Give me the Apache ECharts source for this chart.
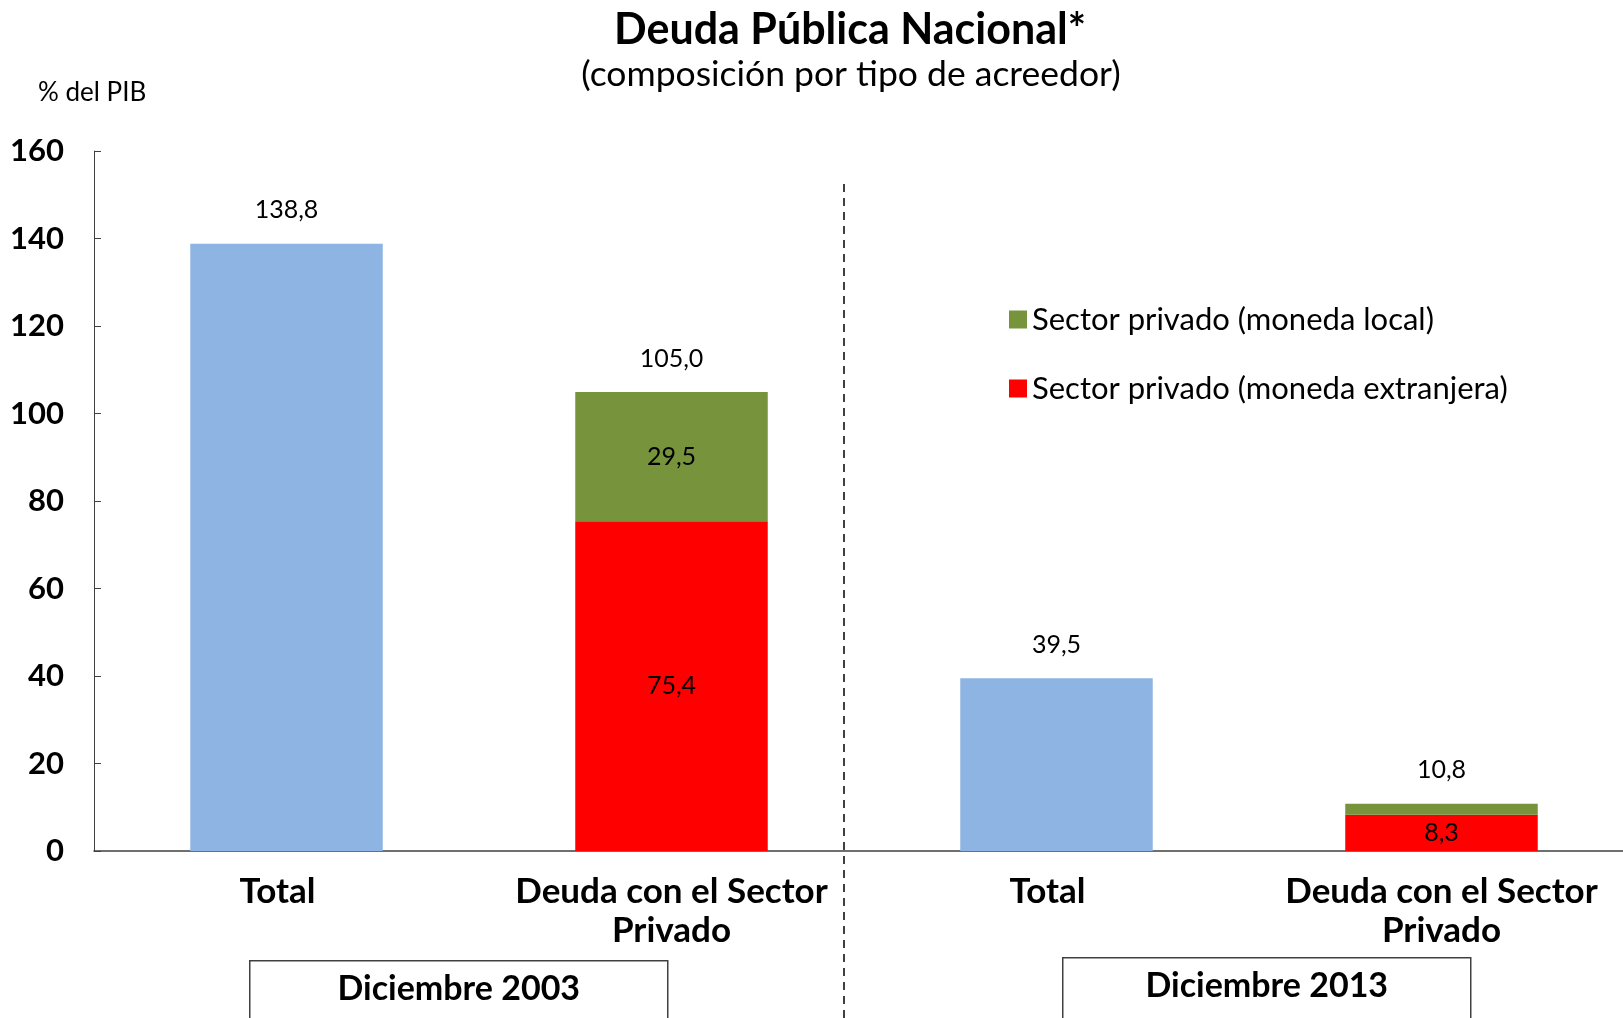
<!doctype html>
<html lang="es">
<head>
<meta charset="UTF-8">
<title>Deuda Pública Nacional</title>
<style>
  html, body { margin: 0; padding: 0; background: #fff; }
  #main { width: 1623px; height: 1018px; }
</style>
</head>
<body>
<div id="main"></div>
<script src="https://cdn.jsdelivr.net/npm/echarts@6/dist/echarts.min.js"></script>
<script>
// datos (% del PIB)
var categorias = ['Total', 'Deuda con el Sector\nPrivado', 'Total', 'Deuda con el Sector\nPrivado'];
var periodos = ['Diciembre 2003', 'Diciembre 2013'];
var deudaTotal = [138.8, '-', 39.5, '-'];
var monedaExtranjera = ['-', 75.4, '-', 8.3];
var monedaLocal = ['-', 29.5, '-', 2.5];
var totalPrivado = ['-', 105.0, '-', 10.8];
var ticksY = [0, 20, 40, 60, 80, 100, 120, 140, 160];

var fuente = 'Lato, "Open Sans", sans-serif';

function coma(v) {
    return v.toFixed(1).replace('.', ',');
}

var myChart = echarts.init(document.getElementById('main'));

// etiquetas de total sobre las barras apiladas: serie auxiliar de altura cero
var auxTotal = totalPrivado.map(function (v) { return v === '-' ? '-' : 0; });

// la verde solo lleva etiqueta en 2003
var localData = monedaLocal.map(function (v, i) {
    if (v === '-') return '-';
    return { value: v, label: { show: i === 1 } };
});

// "Total" va un poco desplazado a la izquierda en el original
var catData = categorias.map(function (c) {
    if (c === 'Total') return { value: c, textStyle: { padding: [0, 18, 0, 0] } };
    return c;
});

var option = {
    animation: false,
    textStyle: { fontFamily: fuente },
    title: [
        {
            text: 'Deuda Pública Nacional*',
            left: 845, top: 4, textAlign: 'center',
            textStyle: { fontSize: 43, fontWeight: 'bold', color: '#000', fontFamily: fuente }
        },
        {
            text: '(composición por tipo de acreedor)',
            left: 846, top: 52, textAlign: 'center',
            textStyle: { fontSize: 35.5, fontWeight: 'normal', color: '#000', fontFamily: fuente }
        },
        {
            text: '% del PIB',
            left: 33, top: 75,
            textStyle: { fontSize: 26, fontWeight: 'normal', color: '#000', fontFamily: fuente }
        }
    ],
    legend: {
        orient: 'vertical',
        left: 1004, top: 299,
        itemWidth: 18, itemHeight: 18, itemGap: 38,
        icon: 'rect',
        data: ['Sector privado (moneda local)', 'Sector privado (moneda extranjera)'],
        textStyle: { fontSize: 31, color: '#000', fontFamily: fuente }
    },
    grid: { left: 94, top: 151, width: 1540, height: 700, outerBoundsMode: 'none' },
    xAxis: {
        type: 'category',
        data: catData,
        axisLine: { lineStyle: { color: '#404040', width: 1.5 } },
        axisTick: { show: false },
        axisLabel: {
            margin: 21, fontSize: 35, fontWeight: 'bold', color: '#000',
            lineHeight: 39, fontFamily: fuente, interval: 0
        }
    },
    yAxis: {
        type: 'value',
        min: ticksY[0], max: ticksY[ticksY.length - 1], interval: 20,
        axisLine: { show: true, lineStyle: { color: '#404040', width: 1 } },
        axisTick: { show: true, inside: true, length: 7, lineStyle: { color: '#404040' } },
        splitLine: { show: false },
        axisLabel: { margin: 30, fontSize: 31, fontWeight: 'bold', color: '#000', fontFamily: fuente }
    },
    series: [
        {
            name: 'Total',
            type: 'bar', stack: 'd', barWidth: '50%',
            data: deudaTotal,
            itemStyle: { color: '#8EB4E3' },
            label: {
                show: true, position: 'top', distance: 21,
                fontSize: 25, color: '#000', fontFamily: fuente,
                formatter: function (p) { return coma(p.value); }
            }
        },
        {
            name: 'Sector privado (moneda extranjera)',
            type: 'bar', stack: 'd', barWidth: '50%',
            data: monedaExtranjera,
            itemStyle: { color: '#FF0000' },
            label: {
                show: true, position: 'inside',
                fontSize: 25, color: '#000', fontFamily: fuente,
                formatter: function (p) { return coma(p.value); }
            }
        },
        {
            name: 'Sector privado (moneda local)',
            type: 'bar', stack: 'd', barWidth: '50%',
            data: localData,
            itemStyle: { color: '#77933C' },
            label: {
                show: false, position: 'inside',
                fontSize: 25, color: '#000', fontFamily: fuente,
                formatter: function (p) { return coma(p.value); }
            }
        },
        {
            name: 'aux',
            type: 'bar', stack: 'd', barWidth: '50%',
            data: auxTotal,
            itemStyle: { color: 'transparent' },
            silent: true,
            label: {
                show: true, position: 'top', distance: 21,
                fontSize: 25, color: '#000', fontFamily: fuente,
                formatter: function (p) { return coma(totalPrivado[p.dataIndex]); }
            }
        }
    ],
    graphic: [
        {
            type: 'line',
            shape: { x1: 844, y1: 184, x2: 844, y2: 1018 },
            style: { stroke: '#000', lineWidth: 1.5, lineDash: [8, 6] }
        },
        {
            type: 'group', left: 249, top: 960,
            children: [
                { type: 'rect', shape: { x: 0, y: 0, width: 418, height: 70 },
                  style: { fill: '#fff', stroke: '#404040', lineWidth: 1.5 } },
                { type: 'text', x: 209, y: 28,
                  style: { text: periodos[0], fontSize: 34, fontWeight: 'bold', fontFamily: fuente,
                           fill: '#000', align: 'center', verticalAlign: 'middle' } }
            ]
        },
        {
            type: 'group', left: 1062, top: 957,
            children: [
                { type: 'rect', shape: { x: 0, y: 0, width: 408, height: 70 },
                  style: { fill: '#fff', stroke: '#404040', lineWidth: 1.5 } },
                { type: 'text', x: 204, y: 28,
                  style: { text: periodos[1], fontSize: 34, fontWeight: 'bold', fontFamily: fuente,
                           fill: '#000', align: 'center', verticalAlign: 'middle' } }
            ]
        }
    ]
};

myChart.setOption(option);
</script>
</body>
</html>
